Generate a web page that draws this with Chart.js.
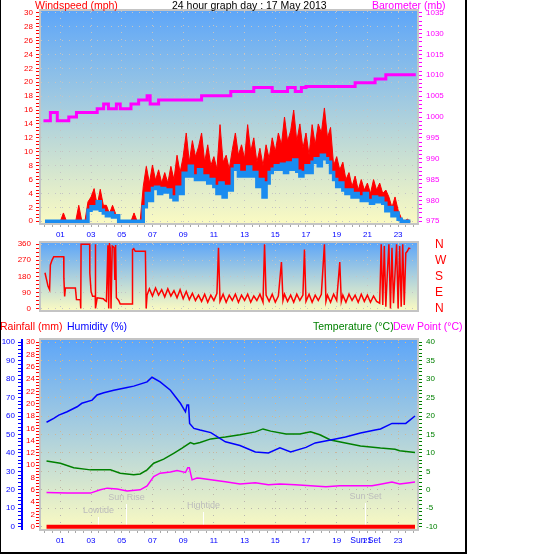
<!DOCTYPE html>
<html>
<head>
<meta charset="utf-8">
<script src="https://cdn.jsdelivr.net/npm/chart.js@4.4.1/dist/chart.umd.min.js"></script>
<style>
  html, body { margin:0; padding:0; background:#ffffff; }
  body { width:543px; height:555px; position:relative; overflow:hidden; font-family:"Liberation Sans", Arial, sans-serif; }
  canvas { position:absolute; left:0; }
  #cA { top:0; } #cB { top:238px; } #cC { top:315px; }
  .t { position:absolute; font-size:10.5px; line-height:12px; white-space:nowrap; }
  #frame { position:absolute; left:0; top:0; width:464px; height:552px; border-left:1px solid #000; border-right:2px solid #000; border-bottom:2px solid #000; pointer-events:none; }
</style>
</head>
<body>
<canvas id="cA" width="543" height="243"></canvas>
<canvas id="cB" width="543" height="77"></canvas>
<canvas id="cC" width="543" height="240"></canvas>
<div class="t" style="left:35px;top:-1px;color:#ff0000">Windspeed (mph)</div>
<div class="t" style="left:172px;top:-1px;color:#000000">24 hour graph day : 17 May 2013</div>
<div class="t" style="left:372px;top:-1px;color:#ff00ff">Barometer (mb)</div>
<div class="t" style="left:0px;top:320px;color:#ff0000">Rainfall (mm)</div>
<div class="t" style="left:67px;top:320px;color:#0000ff">Humidity (%)</div>
<div class="t" style="left:313px;top:320px;color:#008000">Temperature (°C)</div>
<div class="t" style="left:393px;top:320px;color:#ff00ff">Dew Point (°C)</div>
<div id="frame"></div>
<script>
// ================= DATA =================
// x axis labels (hours)
const hourLabelValues = [1,3,5,7,9,11,13,15,17,19,21,23];
const hourLabels = ['01','03','05','07','09','11','13','15','17','19','21','23'];

// Wind speed, sampled every 0.2 h starting at 00:00 (mph)
const WIND_T0 = 0, WIND_DT = 0.2;
const windGust = [
  0,0,0,0,0, 0,1.2,0,0,0, 0,2.3,0,0,2.8, 3.5,4.7,2.3,4.6,2.3,
  2.3,1.1,2.3,1.1,0, 0,0,0,0,1.2, 0,0,5.0,7.9,5.5, 8.1,5.9,7.4,5.5,7.0,
  5.5,7.9,6.0,9.5,7.0, 9.3,12.7,8.5,11.6,9.3, 10.7,12.7,8.5,11.0,8.0, 9.3,7.5,13.9,8.5,9.5,
  7.5,10.3,12.7,9.5,11.0, 9.0,13.9,10.0,12.0,8.5, 10.5,8.0,11.0,9.0,12.0, 10.0,12.7,11.0,15.0,11.5,
  13.0,16.0,11.5,14.0,10.5, 12.7,9.5,13.9,11.0,14.0, 12.7,16.3,12.0,13.5,8.0, 9.3,7.4,8.5,6.0,7.0,
  5.0,6.5,4.5,6.0,4.5, 5.5,4.0,6.0,4.5,5.5, 4.0,4.5,3.5,2.0,3.5, 1.6,0.5,0,0.3,0
];
const windAvg = [
  0,0,0,0,0, 0,0,0,0,0, 0,0,0,0,1.6, 2.1,1.8,2.8,1.6,1.2,
  0.8,1.2,0.6,0.8,0, 0,0,0,0,0, 0,0,2.1,4.0,3.0, 4.7,4.9,4.0,4.7,4.2,
  4.5,3.5,3.1,4.9,4.0, 6.9,6.5,7.9,6.5,6.0, 7.4,6.0,6.5,5.5,6.0, 5.0,4.0,5.5,3.5,5.0,
  4.5,7.5,8.0,6.5,7.0, 6.5,7.8,6.5,7.0,5.0, 6.0,3.5,5.5,7.0,7.5, 8.0,7.5,8.2,7.0,8.4,
  7.5,8.8,7.2,6.5,7.0, 8.0,7.0,8.5,9.0,8.0, 9.5,9.0,8.5,7.0,6.0, 5.0,5.5,4.5,4.0,4.5,
  3.5,4.0,3.5,3.0,4.0, 3.0,2.6,3.5,2.8,3.3, 2.6,1.5,2.0,0.8,1.2, 0.3,0,0,0,0
];
const windTickValues = [0,2,4,6,8,10,12,14,16,18,20,22,24,26,28,30];
const windTickLabels = ['0','2','4','6','8','10','12','14','16','18','20','22','24','26','28','30'];

// Barometer (mb): hour at which each level starts
const baroHours = [-0.1,0.35,0.8,1.55,2.05,3.4,3.82,4.13,4.65,4.9,5.6,6.1,6.65,6.85,7.4,10.2,12.1,13.6,14.8,15.8,16.3,16.7,17.0,20.2,21.5,22.2,24.15];
const baroVals  = [999.1,1001.1,999.1,1000.0,1001.1,1002.0,1003.1,1002.0,1003.1,1002.0,1003.1,1004.1,1005.1,1003.1,1004.1,1005.1,1006.1,1007.1,1006.1,1007.1,1006.1,1007.1,1007.3,1008.2,1009.1,1010.1,1010.1];
const baroTickValues = [975,980,985,990,995,1000,1005,1010,1015,1020,1025];
const baroTickLabels = ['975','980','985','990','995','1000','1005','1010','1015','1030','1035'];

// Wind direction (degrees)
const dirHours = [0.0,0.2,0.3,0.35,0.46,0.57,1.22,1.23,1.28,1.33,1.98,2.05,2.3,2.33,2.35,2.91,2.92,3.0,3.1,3.27,3.28,3.3,3.4,3.8,3.9,4.0,4.1,4.15,4.2,4.25,4.3,4.38,4.45,4.5,4.55,4.6,4.65,4.8,4.9,5.67,5.7,5.78,5.88,6.54,6.59,6.65,6.8,7.0,7.2,7.4,7.6,7.8,8.0,8.2,8.4,8.6,8.8,9.0,9.2,9.4,9.6,9.8,10.0,10.2,10.4,10.6,10.8,11.0,11.2,11.3,11.4,11.6,11.8,12.0,12.2,12.4,12.6,12.8,13.0,13.2,13.4,13.6,13.8,14.0,14.2,14.3,14.4,14.6,14.8,15.0,15.2,15.4,15.5,15.6,15.8,16.0,16.2,16.4,16.6,16.8,16.9,17.0,17.2,17.4,17.6,17.8,18.0,18.2,18.3,18.4,18.6,18.8,19.0,19.2,19.3,19.4,19.6,19.8,20.0,20.2,20.4,20.6,20.8,21.0,21.2,21.4,21.6,21.8,21.9,22.0,22.1,22.2,22.3,22.4,22.5,22.6,22.7,22.8,22.9,23.0,23.1,23.2,23.3,23.4,23.5,23.6,23.7,23.8];
const dirVals  = [200,124,105,244,271,290,290,170,68,115,115,50,49,0,360,360,198,96,68,68,360,0,60,55,45,40,354,0,360,340,0,350,345,340,160,355,60,45,25,25,330,335,320,320,0,75,
  110,70,115,75,105,65,110,70,100,60,105,55,95,50,85,45,75,
  40,80,35,75,45,85,340,40,80,35,75,45,80,35,75,45,80,35,70,45,80,35,360,75,40,80,35,70,260,45,80,40,75,35,80,45,75,330,40,80,35,75,45,80,360,40,75,35,80,45,260,40,75,35,80,45,75,35,80,40,75,35,70,40,30,
  360,20,350,10,200,360,0,340,30,200,360,0,350,10,360,20,310,320,338,335];
const dirTickValues = [0,90,180,270,360];
const dirTickLabels = ['0','90','180','270','360'];
const compassLabels = ['N','E','S','W','N'];

// Humidity (%), temperature and dew point (°C), rainfall (mm)
const humHours = [0.1,0.57,0.9,1.44,2.09,2.4,3.07,3.39,3.83,4.48,5.35,5.78,6.65,6.97,7.5,8.17,8.82,9.15,9.25,9.35,9.42,9.7,10.1,10.8,11.75,12.7,13.7,14.55,15.3,16.0,17.0,17.6,18.6,19.57,20.55,21.5,21.85,22.6,23.5,24.1];
const humVals  = [56.6,58.7,60.5,62.3,65,66.9,68.6,71.4,72.6,74,75.5,76.2,78.5,81,78.5,74,66.9,62.3,66,66,56,53.3,52.4,51,46,44,40.5,40,42.7,40.5,43,45.4,47,48.6,50.8,52.4,53,56,56,60];
const tempHours = [0.1,1.0,1.87,2.96,4.26,4.9,5.78,6.2,6.65,7.08,7.73,8.38,8.93,9.47,9.7,10.1,10.8,11.75,12.7,13.7,14.2,14.7,15.7,16.6,17.3,17.9,18.6,19.57,20.55,21.85,22.8,23.1,24.1];
const tempVals  = [7.8,7.2,6.0,5.4,5.4,4.5,4.05,4.3,5.4,7.2,8.3,9.9,11.3,12.8,12.4,12.8,13.8,14.3,14.9,15.7,16.5,15.9,15.1,15.1,15.7,14.9,13.5,12.7,11.9,11.3,11.0,10.6,10.1];
const dewHours = [0.1,1.44,2.96,3.6,4.05,4.7,5.35,6.2,6.65,7.08,7.5,8.17,8.6,9.15,9.3,9.4,9.58,9.9,10.1,10.8,11.75,12.7,13.7,14.55,15.3,16.3,17.3,18.3,19.2,20.3,21.3,21.85,22.6,23.1,23.5,24.1];
const dewVals  = [-0.7,-0.9,-0.9,0,0.45,0.2,-0.3,0,1.08,3.6,4.5,4.8,5.2,4.7,6.0,6.0,2.7,3.2,3.1,2.7,2.2,1.6,1.9,1.35,1.6,1.35,1.1,0.8,1.1,1.1,1.1,1.5,2.1,1.6,1.8,2.1];
const rainHours = [0.1,24.1];
const rainVals  = [0,0];
const humTickValues = [0,10,20,30,40,50,60,70,80,90,100];
const humTickLabels = ['0','10','20','30','40','50','60','70','80','90','100'];
const rainTickValues = [0,2,4,6,8,10,12,14,16,18,20,22,24,26,28,30];
const rainTickLabels = ['0','2','4','6','8','10','12','14','16','18','20','22','24','26','28','30'];
const tempTickValues = [-10,-5,0,5,10,15,20,25,30,35,40];
const tempTickLabels = ['-10','-5','0','5','10','15','20','25','30','35','40'];

// Event markers
const eventLabels = ['Lowtide','Sun Rise','Hightide','Sun Set'];
const eventHours  = [3.47,5.30,10.31,20.87];
const axisEventLabel = 'Sun Set';
const axisEventHour = 20.87;

// ================= LAYOUT / STYLE =================
const EVENT_TEXT_RISE = [18,31,23,32];
const EVENT_LINE_RISE = [12,25,17,26];
const HOUR_MIN = -0.26, HOUR_MAX = 24.23;
const T = 'rgba(0,0,0,0)';
const GRID_A = '#c4c4c4';

Chart.defaults.font.family = '"Liberation Sans", Arial, sans-serif';
Chart.defaults.font.size = 8;
Chart.defaults.animation = false;
Chart.defaults.responsive = false;
Chart.defaults.plugins.legend.display = false;
Chart.defaults.plugins.tooltip.enabled = false;
Chart.defaults.elements.point.radius = 0;
Chart.defaults.elements.line.tension = 0;

function steps(a, b, s) { const r = []; for (let i = 0; a + i * s <= b + 1e-9; i++) r.push(+(a + i * s).toFixed(4)); return r; }
function near(list, v) { return list.findIndex(x => Math.abs(x - v) < 1e-6); }
function pts(xs, ys) { return ys.map((y, i) => ({ x: xs[i], y })); }
const windPts = arr => arr.map((y, i) => ({ x: WIND_T0 + i * WIND_DT, y }));
const hourTicks = steps(0, 24, 0.5);
function noPad(s) { s.paddingTop = 0; s.paddingBottom = 0; s.paddingLeft = 0; s.paddingRight = 0; }

function gridGradient(chart, top, bottom) {
  const a = chart.chartArea;
  if (!a) return top;
  const key = '_gg' + top + bottom;
  if (!chart[key]) {
    const g = chart.ctx.createLinearGradient(0, a.top, 0, a.bottom);
    g.addColorStop(0, top); g.addColorStop(1, bottom);
    chart[key] = g;
  }
  return chart[key];
}

function hourAxis(showLabels, height, gridFn) {
  return {
    type: 'linear', position: 'bottom', min: HOUR_MIN, max: HOUR_MAX,
    afterBuildTicks: s => { s.ticks = hourTicks.map(v => ({ value: v })); },
    afterFit: s => { s.height = height; noPad(s); },
    ticks: { display: showLabels, autoSkip: false, maxRotation: 0, minRotation: 0, color: '#0000ff', padding: 3,
      callback: v => { const i = near(hourLabelValues, v); return i >= 0 ? hourLabels[i] : ''; } },
    grid: { color: c => (c.tick && near(hourLabelValues, c.tick.value) >= 0) ? gridFn(c.chart) : T,
      drawTicks: showLabels, tickLength: 4, tickColor: '#a8a8a8', tickWidth: 1, lineWidth: 1 },
    border: { display: false, dash: [1, 6] }
  };
}

function valueAxis(o) {
  return {
    type: 'linear', position: o.position, min: o.min, max: o.max, weight: o.weight || 0,
    afterBuildTicks: s => { s.ticks = o.ticks.map(v => ({ value: v })); },
    afterFit: s => { s.width = o.width; noPad(s); },
    ticks: { display: true, autoSkip: false, color: o.color, padding: o.padding,
      font: o.font || undefined,
      callback: v => { const i = near(o.labelValues, v); return i >= 0 ? o.labels[i] : ''; } },
    grid: {
      drawOnChartArea: !!o.gridFn,
      color: c => (o.gridFn && c.tick && near(o.labelValues, c.tick.value) >= 0) ? o.gridFn(c.chart) : T,
      drawTicks: o.drawTicks !== false, tickLength: o.tickLength || 5, tickColor: o.color, tickWidth: 1, lineWidth: 1
    },
    border: { display: !!o.borderColor, color: o.borderColor || T, width: o.borderWidth || 1, dash: [1, 6] }
  };
}

const panelDeco = {
  id: 'panelDeco',
  beforeDraw(chart) {
    const { ctx, chartArea: a } = chart;
    const g = ctx.createLinearGradient(0, a.top, 0, a.bottom);
    g.addColorStop(0, '#5ea6f8'); g.addColorStop(1, '#fafac2');
    ctx.save(); ctx.fillStyle = g; ctx.fillRect(a.left, a.top, a.right - a.left, a.bottom - a.top); ctx.restore();
  },
  afterDraw(chart) {
    const { ctx, chartArea: a } = chart;
    ctx.save(); ctx.strokeStyle = '#c4c4c4'; ctx.lineWidth = 2;
    ctx.strokeRect(a.left - 1, a.top - 1, a.right - a.left + 2, a.bottom - a.top + 2);
    ctx.restore();
  }
};

// ================= PANEL A: wind speed + barometer =================
new Chart(document.getElementById('cA'), {
  type: 'line',
  data: { datasets: [
    { data: windPts(windGust), xAxisID: 'x', yAxisID: 'y', borderColor: '#ff0000', borderWidth: 1,
      backgroundColor: '#ff0000', fill: 1, order: 2 },
    { data: windPts(windAvg), xAxisID: 'x', yAxisID: 'y', borderColor: '#1a8cf0', borderWidth: 3.5,
      stepped: true, fill: false, order: 1 },
    { data: pts(baroHours, baroVals), xAxisID: 'x', yAxisID: 'yb', borderColor: '#ff00ff', borderWidth: 3,
      stepped: true, fill: false, order: 0 }
  ]},
  options: {
    layout: { padding: { top: 11, left: 0, right: 0, bottom: 0 } },
    scales: {
      x: hourAxis(true, 20, () => GRID_A),
      y: valueAxis({ position: 'left', min: -0.245, max: 30.245, ticks: steps(0, 30, 0.5),
        labelValues: windTickValues, labels: windTickLabels, color: '#ff0000', width: 41, padding: 3,
        gridFn: () => GRID_A }),
      yb: valueAxis({ position: 'right', min: 974.59, max: 1025.41, ticks: steps(975, 1025, 1),
        labelValues: baroTickValues, labels: baroTickLabels, color: '#ff00ff', width: 126, padding: 4 })
    }
  },
  plugins: [panelDeco]
});

// ================= PANEL B: wind direction =================
new Chart(document.getElementById('cB'), {
  type: 'line',
  data: { datasets: [
    { data: pts(dirHours, dirVals), xAxisID: 'x', yAxisID: 'y', borderColor: '#ff0000', borderWidth: 1.5, fill: false }
  ]},
  options: {
    layout: { padding: { top: 5, left: 0, right: 0, bottom: 5 } },
    scales: {
      x: hourAxis(false, 0, () => GRID_A),
      y: valueAxis({ position: 'left', min: -8.4, max: 366.7, ticks: steps(0, 360, 22.5),
        labelValues: dirTickValues, labels: dirTickLabels, color: '#ff0000', width: 41, padding: 5,
        gridFn: () => GRID_A }),
      yc: valueAxis({ position: 'right', min: -8.4, max: 366.7, ticks: dirTickValues,
        labelValues: dirTickValues, labels: compassLabels, color: '#ff0000', width: 126, padding: 18,
        drawTicks: false, font: { size: 12 } })
    }
  },
  plugins: [panelDeco]
});

// ================= PANEL C: rain, humidity, temperature, dew point =================
const gridC = chart => gridGradient(chart, '#e6b878', '#b4b4b4');
const eventMarks = {
  id: 'eventMarks',
  beforeDatasetsDraw(chart) {
    const { ctx, chartArea: a, scales: { x } } = chart;
    ctx.save();
    ctx.font = '9px "Liberation Sans", Arial, sans-serif';
    ctx.textAlign = 'center'; ctx.textBaseline = 'middle';
    eventLabels.forEach((lab, i) => {
      const px = Math.round(x.getPixelForValue(eventHours[i])) + 0.5;
      ctx.strokeStyle = '#ffffff'; ctx.lineWidth = 1;
      ctx.beginPath(); ctx.moveTo(px, a.bottom - EVENT_LINE_RISE[i]); ctx.lineTo(px, a.bottom - 1); ctx.stroke();
      ctx.fillStyle = '#bcbcbc';
      ctx.fillText(lab, px, a.bottom - EVENT_TEXT_RISE[i]);
    });
    ctx.restore();
  },
  afterDraw(chart) {
    const { ctx, chartArea: a, scales: { x } } = chart;
    ctx.save();
    ctx.font = '8.5px "Liberation Sans", Arial, sans-serif';
    ctx.textAlign = 'center'; ctx.textBaseline = 'middle';
    ctx.fillStyle = '#0000ff';
    ctx.fillText(axisEventLabel, x.getPixelForValue(axisEventHour), a.bottom + 12);
    ctx.restore();
  }
};
new Chart(document.getElementById('cC'), {
  type: 'line',
  data: { datasets: [
    { data: pts(rainHours, rainVals), xAxisID: 'x', yAxisID: 'yr', borderColor: '#ff0000', borderWidth: 4, fill: false, order: 0 },
    { data: pts(humHours, humVals), xAxisID: 'x', yAxisID: 'yh', borderColor: '#0000ff', borderWidth: 1.5, fill: false, order: 1 },
    { data: pts(tempHours, tempVals), xAxisID: 'x', yAxisID: 'yt', borderColor: '#008000', borderWidth: 1.5, fill: false, order: 2 },
    { data: pts(dewHours, dewVals), xAxisID: 'x', yAxisID: 'yt', borderColor: '#ff00ff', borderWidth: 1.5, fill: false, order: 3 }
  ]},
  options: {
    layout: { padding: { top: 25, left: 0, right: 0, bottom: 0 } },
    scales: {
      x: hourAxis(true, 26, gridC),
      yh: valueAxis({ position: 'left', weight: 1, min: -1.25, max: 101.2, ticks: steps(0, 100, 2),
        labelValues: humTickValues, labels: humTickLabels, color: '#0000ff', width: 22, padding: 3,
        tickLength: 4, borderColor: '#0000ff', borderWidth: 2 }),
      yr: valueAxis({ position: 'left', weight: 0, min: -0.375, max: 30.36, ticks: steps(0, 30, 0.5),
        labelValues: rainTickValues, labels: rainTickLabels, color: '#ff0000', width: 19, padding: 1 }),
      yt: valueAxis({ position: 'right', min: -10.625, max: 40.6, ticks: steps(-10, 40, 1),
        labelValues: tempTickValues, labels: tempTickLabels, color: '#008000', width: 126, padding: 4,
        gridFn: gridC })
    }
  },
  plugins: [panelDeco, eventMarks]
});
</script>
</body>
</html>
